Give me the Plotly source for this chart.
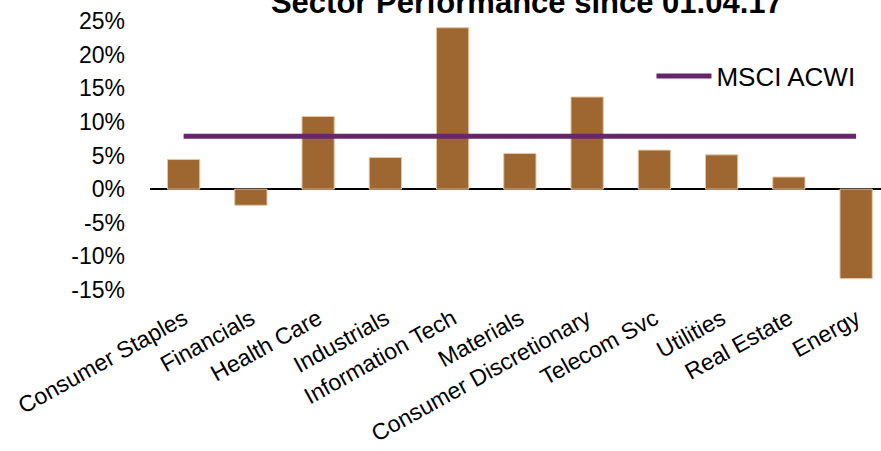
import plotly.graph_objects as go

# Sector returns (%) and the benchmark return
sectors = [
    "Consumer Staples", "Financials", "Health Care", "Industrials",
    "Information Tech", "Materials", "Consumer Discretionary", "Telecom Svc",
    "Utilities", "Real Estate", "Energy",
]
sector_returns = [4.4, -2.4, 10.8, 4.7, 24.0, 5.3, 13.7, 5.8, 5.1, 1.8, -13.3]
benchmark_name = "MSCI ACWI"
benchmark_return = 7.85
y_ticks = [-15, -10, -5, 0, 5, 10, 15, 20, 25]
y_tick_labels = [f"{v}%" for v in y_ticks]

FONT = "Liberation Sans, Arial, sans-serif"
BAR_COLOR = "#9E6631"
LINE_COLOR = "#66266B"

fig = go.Figure()

fig.add_trace(go.Bar(
    x=sectors,
    y=sector_returns,
    marker=dict(color=BAR_COLOR, line=dict(color="#E6C7A4", width=1)),
    showlegend=False,
))

fig.add_trace(go.Scatter(
    x=sectors,
    y=[benchmark_return] * len(sectors),
    mode="lines",
    name=benchmark_name,
    line=dict(color=LINE_COLOR, width=5),
))

fig.update_layout(
    width=881,
    height=451,
    margin=dict(l=150, r=0, t=21, b=161),
    paper_bgcolor="white",
    plot_bgcolor="white",
    bargap=0.52,
    font=dict(family=FONT, color="black"),
    title=dict(
        text="<b>Sector Performance since 01.04.17</b>",
        x=0.598, xanchor="center",
        y=0.972, yanchor="bottom", yref="container",
        font=dict(size=31, family=FONT, color="black"),
    ),
    legend=dict(
        x=0.686, y=0.795, xanchor="left", yanchor="middle",
        xref="paper", yref="paper",
        bgcolor="rgba(0,0,0,0)",
        font=dict(size=26, family=FONT, color="black"),
        itemwidth=55,
    ),
    xaxis=dict(
        type="category",
        range=[-0.5, 10.37],
        showline=False,
        showgrid=False,
        ticks="",
        tickangle=-29,
        tickfont=dict(size=23, family=FONT, color="black"),
        ticklabelstandoff=10,
    ),
    yaxis=dict(
        range=[-15, 25],
        tickvals=y_ticks,
        ticktext=y_tick_labels,
        showgrid=False,
        showline=False,
        zeroline=True,
        zerolinecolor="black",
        zerolinewidth=2,
        ticks="",
        ticklabelstandoff=24,
        tickfont=dict(size=23, family=FONT, color="black"),
    ),
)

fig.write_html("out.html")
